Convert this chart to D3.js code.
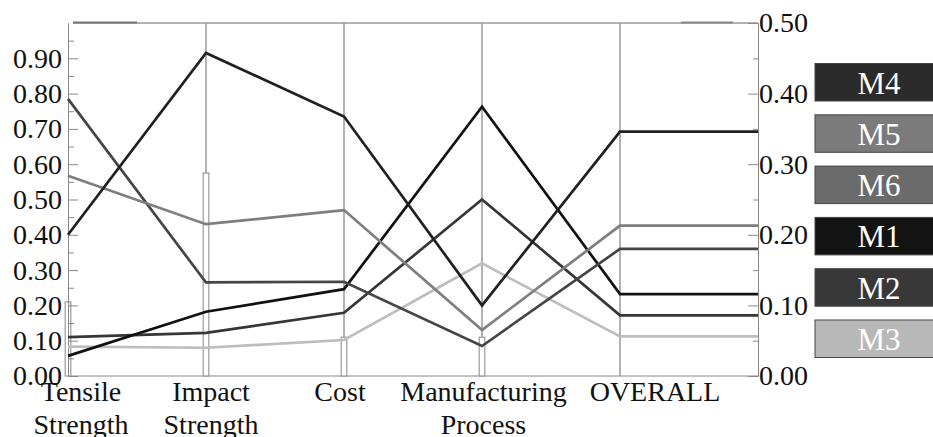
<!DOCTYPE html>
<html lang="en">
<head>
    <meta charset="UTF-8">
    <title>Parallel coordinates</title>
    <style>
        body { margin: 0; background: #fff; }
        svg, svg text { font-family: "Liberation Serif", "Times New Roman", serif; }
        svg { display: block; }
        .axis text { font-size: 28px; fill: #111; font-family: "Liberation Serif", serif; }
        .axis path, .axis line { stroke: #888; }
    </style>
</head>
<body>
    <div id="chart"></div>

    <script src="https://d3js.org/d3.v7.min.js"></script>
    <script>
        // Data
        const dimensions = ["Tensile Strength", "Impact Strength", "Cost", "Manufacturing Process", "OVERALL"];
        const materials = ["M4", "M5", "M6", "M1", "M2", "M3"];
        // first four values on the left scale (0-1), OVERALL on the right scale (0-0.5)
        const m4 = [0.40, 0.915, 0.735, 0.20, 0.346];
        const m5 = [0.567, 0.43, 0.47, 0.13, 0.213];
        const m6 = [0.785, 0.265, 0.267, 0.085, 0.18];
        const m1 = [0.057, 0.182, 0.246, 0.763, 0.116];
        const m2 = [0.11, 0.122, 0.179, 0.50, 0.086];
        const m3 = [0.083, 0.08, 0.102, 0.319, 0.056];
        const brushValues = [0.21, 0.575, 0.11, 0.11];
        const leftTicks = [0, 0.1, 0.2, 0.3, 0.4, 0.5, 0.6, 0.7, 0.8, 0.9];
        const rightTicks = [0, 0.1, 0.2, 0.3, 0.4, 0.5];

        const series = { M4: m4, M5: m5, M6: m6, M1: m1, M2: m2, M3: m3 };
        const lineColor = { M4: "#202020", M5: "#7e7e7e", M6: "#454545", M1: "#111", M2: "#363636", M3: "#bdbdbd" };
        const boxColor = { M4: "#2b2b2b", M5: "#7b7b7b", M6: "#6b6b6b", M1: "#131313", M2: "#383838", M3: "#b8b8b8" };
        const serif = "Liberation Serif, Times New Roman, serif";

        const W = 933, H = 437;
        const yTop = 23, yBottom = 376;

        const svg = d3.select("#chart").append("svg")
            .attr("width", W).attr("height", H)
            .attr("font-family", serif);

        const x = d3.scalePoint()
            .domain([...dimensions, "_end"])
            .range([68, 758]);
        const yLeft = d3.scaleLinear().domain([0, 1]).range([yBottom, yTop]);
        const yRight = d3.scaleLinear().domain([0, 0.5]).range([yBottom, yTop]);
        const yFor = (dim, v) => dim === "OVERALL" ? yRight(v) : yLeft(v);

        // frame: top and bottom lines
        svg.append("line").attr("x1", 73).attr("x2", x("_end"))
            .attr("y1", yTop).attr("y2", yTop).attr("stroke", "#999").attr("stroke-width", 1.5);
        svg.append("line").attr("x1", 73).attr("x2", 137)
            .attr("y1", yTop - 0.5).attr("y2", yTop - 0.5).attr("stroke", "#777").attr("stroke-width", 2);
        svg.append("line").attr("x1", 681).attr("x2", 733)
            .attr("y1", yTop - 0.5).attr("y2", yTop - 0.5).attr("stroke", "#888").attr("stroke-width", 2);
        svg.append("line").attr("x1", x(dimensions[0])).attr("x2", x("_end"))
            .attr("y1", yBottom).attr("y2", yBottom).attr("stroke", "#888").attr("stroke-width", 1.2);

        // inner vertical axes
        svg.selectAll(".vaxis")
            .data(dimensions.slice(1))
            .enter().append("line")
            .attr("class", "vaxis")
            .attr("x1", d => x(d)).attr("x2", d => x(d))
            .attr("y1", yTop).attr("y2", yBottom)
            .attr("stroke", "#999").attr("stroke-width", 1.5);

        // thin brush bars
        svg.selectAll(".brush")
            .data(brushValues)
            .enter().append("rect")
            .attr("class", "brush")
            .attr("x", (d, i) => x(dimensions[i]) - 2.8)
            .attr("width", 5.6)
            .attr("y", d => yLeft(d))
            .attr("height", d => yBottom - yLeft(d))
            .attr("fill", "#fff").attr("stroke", "#999").attr("stroke-width", 1.2);

        // left axis (minor + major)
        svg.append("g").attr("class", "axis")
            .attr("transform", `translate(${x(dimensions[0])},0)`)
            .call(d3.axisLeft(yLeft).tickValues(d3.range(0.05, 1, 0.1)).tickSize(-6).tickSizeOuter(0).tickFormat(""));
        svg.append("g").attr("class", "axis")
            .attr("transform", `translate(${x(dimensions[0])},0)`)
            .call(d3.axisLeft(yLeft).tickValues(leftTicks).tickSize(-10).tickSizeOuter(0)
                .tickPadding(6).tickFormat(d3.format(".2f")))
            .attr("font-family", serif);

        // right axis
        svg.append("g").attr("class", "axis")
            .attr("transform", `translate(${x("_end")},0)`)
            .call(d3.axisRight(yRight).tickValues(d3.range(0.05, 0.5, 0.1)).tickSize(-5).tickSizeOuter(0).tickFormat(""));
        svg.append("g").attr("class", "axis")
            .attr("transform", `translate(${x("_end")},0)`)
            .call(d3.axisRight(yRight).tickValues(rightTicks).tickSize(-10).tickSizeOuter(0)
                .tickPadding(1).tickFormat(d3.format(".2f")))
            .attr("font-family", serif);

        // material lines, extended flat to the right axis
        const line = d3.line().x(d => d[0]).y(d => d[1]);
        svg.selectAll(".mat")
            .data(materials.slice().reverse())
            .enter().append("path")
            .attr("class", "mat")
            .attr("fill", "none")
            .attr("stroke", d => lineColor[d])
            .attr("stroke-width", 2.7)
            .attr("d", m => {
                const pts = dimensions.map((dim, i) => [x(dim), yFor(dim, series[m][i])]);
                pts.push([x("_end"), yRight(series[m][4])]);
                return line(pts);
            });

        // dimension labels
        const labelShift = [13, 5, -4, 1.5, 35];
        const labels = svg.selectAll(".dimlabel")
            .data(dimensions)
            .enter().append("text")
            .attr("class", "dimlabel")
            .attr("text-anchor", "middle")
            .attr("font-family", serif)
            .attr("font-size", 28)
            .attr("fill", "#111");
        labels.each(function (d, i) {
            const words = d.split(" ");
            d3.select(this).selectAll("tspan")
                .data(words)
                .enter().append("tspan")
                .attr("x", x(d) + labelShift[i])
                .attr("y", (w, j) => 401 + j * 33)
                .text(w => w);
        });

        // legend
        const legend = svg.selectAll(".legend")
            .data(materials)
            .enter().append("g")
            .attr("class", "legend")
            .attr("transform", (d, i) => `translate(815,${63.5 + i * 51.3})`);
        legend.append("rect")
            .attr("width", 125).attr("height", 37.5)
            .attr("fill", d => boxColor[d])
            .attr("stroke", "#444").attr("stroke-width", 1);
        legend.append("text")
            .attr("x", 64).attr("y", 30)
            .attr("text-anchor", "middle")
            .attr("font-family", serif)
            .attr("font-size", 31)
            .attr("fill", "#fff")
            .text(d => d);
    </script>
</body>
</html>
